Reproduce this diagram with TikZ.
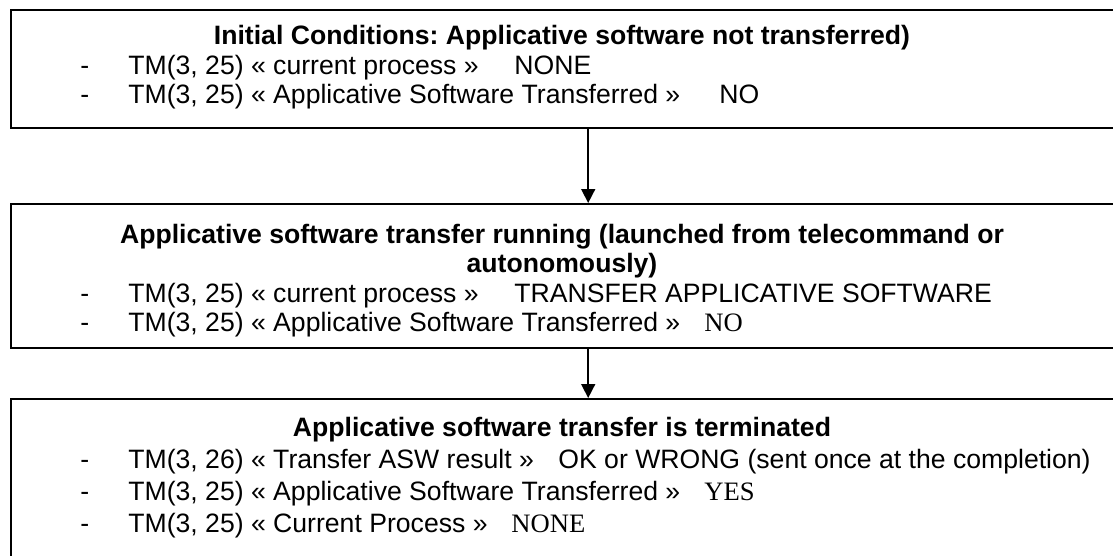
\documentclass[tikz,border=0pt]{standalone}
\usepackage{fontspec}
\setmainfont{Liberation Sans}
\newfontfamily\serifval{Liberation Serif}
\usetikzlibrary{arrows.meta,positioning}
\frenchspacing

\begin{document}
\begin{tikzpicture}[x=0.5pt,y=-0.5pt,font=\fontsize{13.3}{16}\selectfont,
  box/.style={draw,line width=1.2pt,anchor=north west,inner sep=0pt,minimum width=577pt},
  head/.style={font=\fontsize{13.3}{16}\selectfont\bfseries,anchor=base,inner sep=0pt},
  item/.style={anchor=base west,inner sep=0pt},
  arr/.style={-{Triangle[length=7pt,width=7pt]},line width=0.8pt}]
  \useasboundingbox (0,0) rectangle (1113,556);
  % the three states
  \node[box,minimum height=59pt] (init) at (10,9) {};
  \node[box,minimum height=72pt] (run) at (10,203) {};
  \node[box,minimum height=100pt] (term) at (10,398) {};
  \draw[arr] (init) -- (run);
  \draw[arr] (run) -- (term);
  % initial conditions
  \node[head] (inithead) at (562,45) {Initial Conditions: Applicative software not transferred)};
  \node[item] at (80,75) {-};
  \node[item] (initproc) at (128,75) {TM(3, 25) « current process »};
  \node[item] at (514,75) {NONE};
  \node[item] at (80,104) {-};
  \node[item] (initasw) at (128,104) {TM(3, 25) « Applicative Software Transferred »};
  \node[item] at (719,104) {NO};
  % transfer running
  \node[head] (runhead) at (562,243) {Applicative software transfer running (launched from telecommand or};
  \node[head] at (562,272) {autonomously)};
  \node[item] at (80,302) {-};
  \node[item] (runproc) at (128,302) {TM(3, 25) « current process »};
  \node[item] at (514,302) {TRANSFER APPLICATIVE SOFTWARE};
  \node[item] at (80,331) {-};
  \node[item] (runasw) at (128,331) {TM(3, 25) « Applicative Software Transferred »};
  \node[item] at (704,331) {\serifval NO};
  % transfer terminated
  \node[head] (termhead) at (562,436) {Applicative software transfer is terminated};
  \node[item] at (80,468) {-};
  \node[item] (termres) at (128,468) {TM(3, 26) « Transfer ASW result »};
  \node[item] at (558,468) {OK or WRONG (sent once at the completion)};
  \node[item] at (80,500) {-};
  \node[item] (termasw) at (128,500) {TM(3, 25) « Applicative Software Transferred »};
  \node[item] at (704,500) {\serifval YES};
  \node[item] at (80,532) {-};
  \node[item] (termproc) at (128,532) {TM(3, 25) « Current Process »};
  \node[item] at (511,532) {\serifval NONE};
\end{tikzpicture}
\end{document}
